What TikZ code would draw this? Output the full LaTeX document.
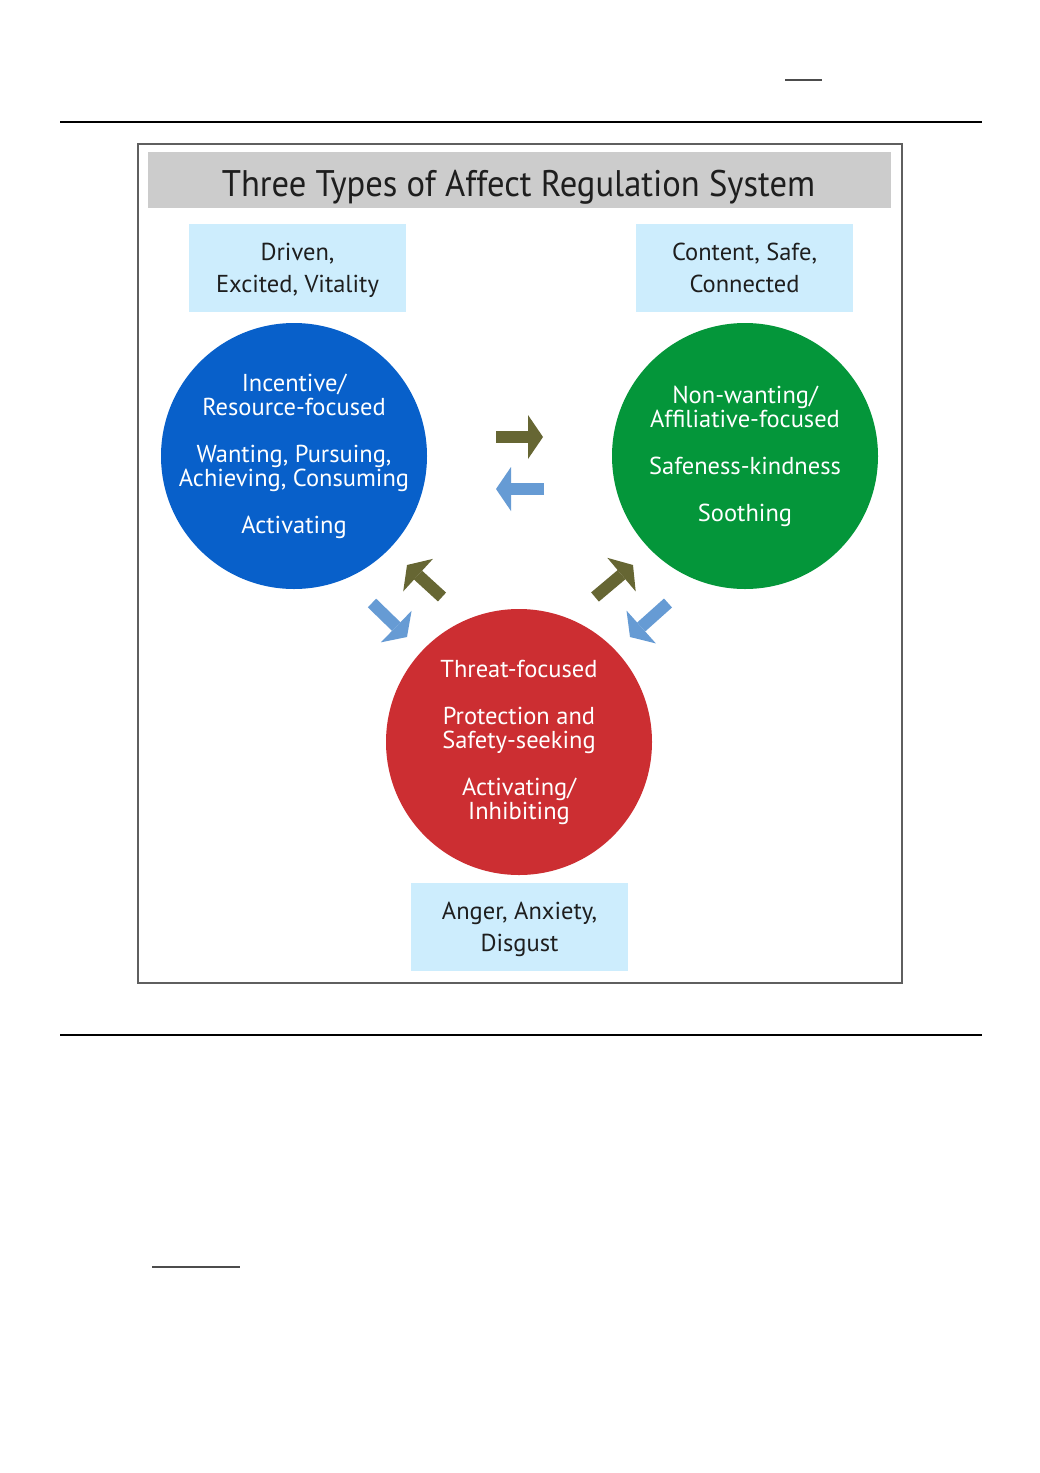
\documentclass[tikz,border=0pt]{standalone}
\usepackage{fontspec}
\setmainfont{PT Sans}
\usetikzlibrary{positioning, arrows.meta, calc}
\definecolor{titleGray}{RGB}{204,204,204}
\definecolor{frameGray}{RGB}{95,95,95}
\definecolor{moodBlue}{RGB}{205,237,253}
\definecolor{textDark}{RGB}{30,30,30}
\definecolor{driveBlue}{RGB}{8,96,202}
\definecolor{soothGreen}{RGB}{4,150,58}
\definecolor{threatRed}{RGB}{204,46,50}
\definecolor{arrowOlive}{RGB}{102,102,51}
\definecolor{arrowBlue}{RGB}{102,155,212}

\begin{document}
\begin{tikzpicture}[x=1pt, y=-1pt,
	stateCircle/.style={circle, minimum size=266pt, inner sep=0pt},
	circText/.style={text=white, align=center, inner sep=0pt, font=\fontsize{24.5}{24}\selectfont},
	moodBox/.style={rectangle, fill=moodBlue, minimum width=217pt, minimum height=88pt},
	moodText/.style={align=center, inner sep=0pt, text=textDark, font=\fontsize{24.5}{32}\selectfont},
	fwdArrow/.style={draw=arrowOlive, line width=12pt, -{Triangle[width=44pt, length=15pt, line width=0pt]}},
	backArrow/.style={draw=arrowBlue, line width=12pt, -{Triangle[width=44pt, length=15pt, line width=0pt]}}]
		\path[use as bounding box, fill=white] (0,0) rectangle (1040,1473);
		
		%page rules
		\draw[black, line width=1.2pt] (60,122) -- (982,122);
		\draw[black, line width=1.2pt] (60,1035) -- (982,1035);
		\draw[gray!60!black, line width=1.5pt] (785,80) -- (822,80);
		\draw[gray!60!black, line width=1.5pt] (152,1267) -- (240,1267);
		
		\node (frame) at (520,563.5) [draw=frameGray, line width=2.5pt, rectangle, minimum width=764pt, minimum height=839pt]{};
		
		\node (titleBar) at (519.5,180) [rectangle, fill=titleGray, minimum width=743pt, minimum height=56pt]{};
		\node (titleText) at (518.5,196) [anchor=base, inner sep=0pt, text=textDark, font=\fontsize{37}{40}\selectfont]{\scalebox{0.935}[1]{Three Types of Affect Regulation System}};
		
		\node (drive) at (294,456) [stateCircle, fill=driveBlue]{};
		\node (sooth) at (745,456) [stateCircle, fill=soothGreen]{};
		\node (threat) at (519,742) [stateCircle, fill=threatRed]{};
		
		\node (driveText) at (drive) [circText]{Incentive/\\Resource-focused\\[23pt]Wanting, Pursuing,\\Achieving, Consuming\\[23pt]Activating};
		\node (soothText) at (sooth) [circText]{Non-wanting/\\Affiliative-focused\\[23pt]Safeness-kindness\\[23pt]Soothing};
		\node (threatText) at (threat) [circText]{Threat-focused\\[23pt]Protection and\\Safety-seeking\\[23pt]Activating/\\Inhibiting};
		
		\node (driveMood) at (297.5,268) [moodBox]{};
		\node (soothMood) at (744.5,268) [moodBox]{};
		\node (threatMood) at (519.5,927) [moodBox]{};
		\node (driveMoodText) at ([yshift=-2.5pt]driveMood) [moodText]{\strut Driven,\\Excited, Vitality\strut};
		\node (soothMoodText) at ([yshift=-2.5pt]soothMood) [moodText]{\strut Content, Safe,\\Connected\strut};
		\node (threatMoodText) at ([yshift=-2.5pt]threatMood) [moodText]{\strut Anger, Anxiety,\\Disgust\strut};
		
		%Links
		\draw[fwdArrow] ($(drive)!0.5!(sooth)$) ++(-23.5,-19) -- ++(47,0);
		\draw[backArrow] ($(drive)!0.5!(sooth)$) ++(24.5,33) -- ++(-48,0);
		\draw[fwdArrow] ($(drive)!0.5!(threat)$) ++(35.5,-2) -- ++(-35,-32);
		\draw[backArrow] ($(drive)!0.5!(threat)$) ++(-34.5,4) -- ++(35,34);
		\draw[fwdArrow] ($(sooth)!0.5!(threat)$) ++(-37,-2) -- ++(38,-32);
		\draw[backArrow] ($(sooth)!0.5!(threat)$) ++(36,4) -- ++(-38,34);
		
\end{tikzpicture}
\end{document}
